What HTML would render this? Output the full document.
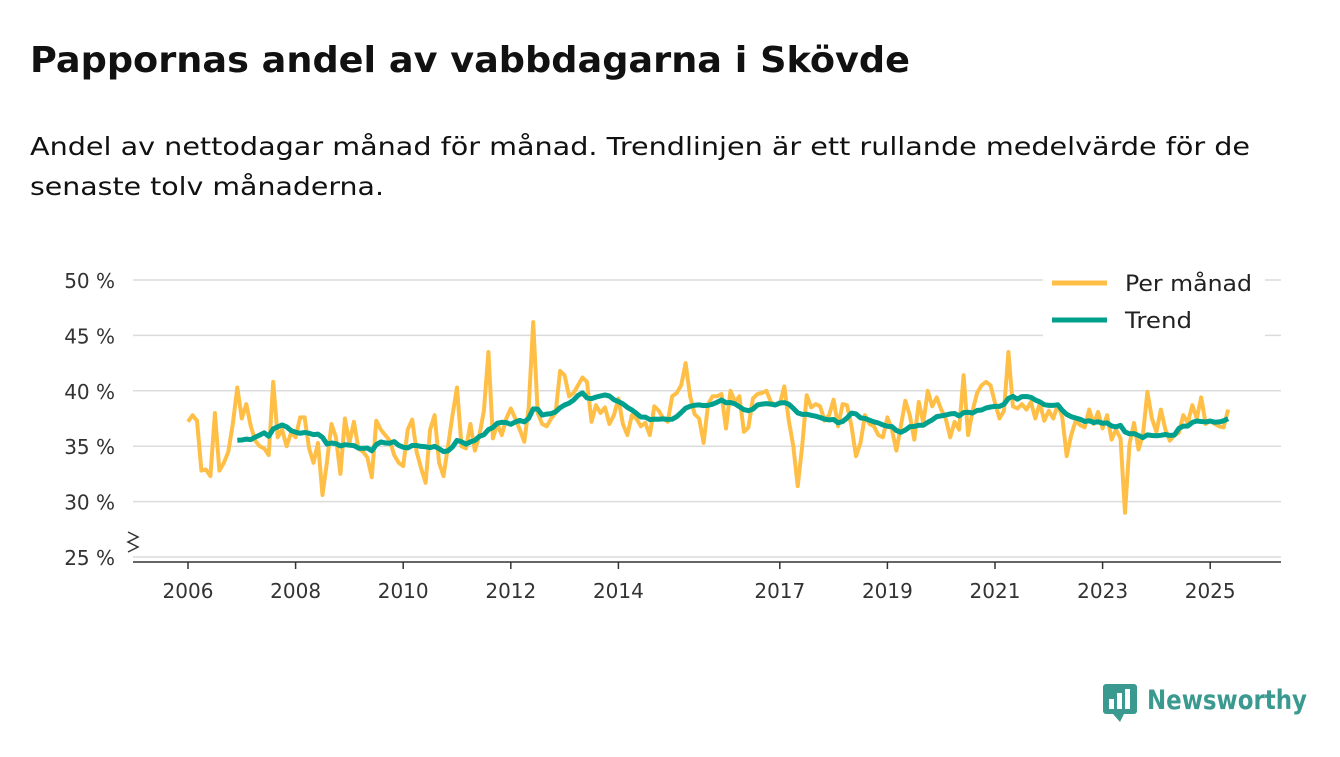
<!DOCTYPE html>
<html><head><meta charset="utf-8"><style>
body{margin:0;background:#fff;width:1340px;height:753px;overflow:hidden;font-family:"DejaVu Sans","Liberation Sans",sans-serif}
</style></head><body>
<svg width="1340" height="753" font-family="DejaVu Sans, Liberation Sans, sans-serif">
<text x="30" y="72" font-size="36" font-weight="bold" fill="#111" textLength="880" lengthAdjust="spacingAndGlyphs">Pappornas andel av vabbdagarna i Skövde</text>
<text x="30" y="155" font-size="25" fill="#111" textLength="1220" lengthAdjust="spacingAndGlyphs">Andel av nettodagar månad för månad. Trendlinjen är ett rullande medelvärde för de</text>
<text x="30" y="195" font-size="25" fill="#111" textLength="354" lengthAdjust="spacingAndGlyphs">senaste tolv månaderna.</text>
<g id="grid"></g>
<g id="yt"></g>
<g id="xt"></g>
<path d="M128,532 L138,537 L128,542 L138,547 L128,552" fill="none" stroke="#333" stroke-width="1.5"/>
<line x1="133" y1="562" x2="1281" y2="562" stroke="#333" stroke-width="1.5"/>
<path id="monthly" fill="none" stroke="#ffbf47" stroke-width="4" stroke-linejoin="round"/>
<path id="trend" fill="none" stroke="#00a08e" stroke-width="5" stroke-linejoin="round"/>
<g>
<rect x="1043" y="263" width="222" height="74" fill="#fff"/>
<line x1="1052" y1="283" x2="1107" y2="283" stroke="#ffbf47" stroke-width="5"/>
<text x="1125" y="291" font-size="22" fill="#222" textLength="127" lengthAdjust="spacingAndGlyphs">Per månad</text>
<line x1="1052" y1="320" x2="1107" y2="320" stroke="#00a08e" stroke-width="5"/>
<text x="1125" y="328" font-size="22" fill="#222" textLength="67" lengthAdjust="spacingAndGlyphs">Trend</text>
</g>
<g>
<rect x="1103" y="684" width="34" height="30" rx="3" fill="#3a9a8f"/>
<path d="M1113,714 L1120,722 L1124,714 Z" fill="#3a9a8f"/>
<rect x="1109" y="699" width="5" height="10" fill="#fff"/><rect x="1117" y="693" width="5" height="16" fill="#fff"/><rect x="1125" y="689" width="5" height="20" fill="#fff"/>
<text x="1147" y="709" font-size="27" font-weight="bold" fill="#3a9a8f" textLength="160" lengthAdjust="spacingAndGlyphs">Newsworthy</text>
</g>
</svg>
<script>
const yTicks=[25,30,35,40,45,50];
const xTickYears=[2006,2008,2010,2012,2014,2017,2019,2021,2023,2025];
const startYear=2006;
const monthly=[
37.2,37.8,37.3,32.8,32.9,32.3,38.0,32.8,33.5,34.5,37.0,40.3,
37.5,38.8,36.8,35.5,35.0,34.8,34.2,40.8,35.8,36.5,35.0,36.2,
35.8,37.6,37.6,34.8,33.5,35.3,30.6,33.6,37.0,35.8,32.5,37.5,
35.3,37.2,34.8,34.5,34.0,32.2,37.3,36.5,36.0,35.5,34.2,33.5,
33.2,36.5,37.4,34.5,33.0,31.7,36.5,37.8,33.5,32.3,35.0,37.8,
40.3,35.0,34.8,37.0,34.6,36.0,38.2,43.5,35.7,37.0,36.0,37.5,
38.4,37.5,36.5,35.4,38.5,46.2,38.0,37.0,36.8,37.5,38.0,41.8,
41.4,39.5,39.8,40.5,41.2,40.8,37.2,38.7,38.0,38.5,37.0,37.8,
39.3,37.0,36.0,37.8,37.5,36.8,37.1,36.0,38.6,38.2,37.5,37.2,
39.5,39.8,40.5,42.5,39.5,37.9,37.5,35.3,38.8,39.5,39.5,39.7,
36.6,40.0,39.0,39.5,36.3,36.7,39.3,39.7,39.8,40.0,39.0,38.7,
38.8,40.4,37.3,35.0,31.4,35.0,39.6,38.5,38.8,38.6,37.3,37.8,
39.2,36.8,38.8,38.7,36.8,34.1,35.3,37.8,37.0,36.8,36.0,35.8,
37.6,36.5,34.6,36.8,39.1,37.8,35.6,39.0,37.1,40.0,38.6,39.4,
38.3,37.5,35.8,37.2,36.5,41.4,36.0,38.2,39.8,40.5,40.8,40.5,
38.9,37.5,38.2,43.5,38.6,38.4,38.8,38.3,39.0,37.5,38.9,37.3,
38.2,37.5,38.8,37.6,34.1,36.0,37.3,36.9,36.7,38.3,37.0,38.1,
36.6,37.8,35.6,36.5,35.7,29.0,35.2,37.1,34.7,36.0,39.9,37.5,
36.3,38.3,36.5,35.5,36.0,36.2,37.8,37.1,38.7,37.5,39.4,37.0,
37.3,37.0,36.8,36.7,38.3];
const X0=188, PXY=53.8;
function xs(i){return X0+i*PXY/12;}
function ys(v){return 557-(v-25)*(277/25);}
const NS='http://www.w3.org/2000/svg';
const grid=document.getElementById('grid'),yt=document.getElementById('yt'),xt=document.getElementById('xt');
yTicks.forEach(t=>{
 const l=document.createElementNS(NS,'line');
 l.setAttribute('x1',133);l.setAttribute('x2',1281);l.setAttribute('y1',ys(t));l.setAttribute('y2',ys(t));
 l.setAttribute('stroke','#dcdcdc');l.setAttribute('stroke-width','1.5');
 
 
 grid.appendChild(l);
 const tx=document.createElementNS(NS,'text');
 tx.setAttribute('x',115);tx.setAttribute('y',ys(t)+8);tx.setAttribute('text-anchor','end');
 tx.setAttribute('font-size','20');tx.setAttribute('fill','#333');tx.textContent=t+' %';
 
 
 yt.appendChild(tx);
});
xTickYears.forEach(y=>{
 const x=xs((y-startYear)*12);
 const l=document.createElementNS(NS,'line');
 l.setAttribute('x1',x);l.setAttribute('x2',x);l.setAttribute('y1',562);l.setAttribute('y2',569);
 l.setAttribute('stroke','#333');l.setAttribute('stroke-width','1.5');
 
 
 xt.appendChild(l);
 const tx=document.createElementNS(NS,'text');
 tx.setAttribute('x',x);tx.setAttribute('y',598);tx.setAttribute('text-anchor','middle');
 tx.setAttribute('font-size','20');tx.setAttribute('fill','#333');tx.textContent=y;
 
 
 xt.appendChild(tx);
});
document.getElementById('monthly').setAttribute('d',monthly.map((v,i)=>(i?'L':'M')+xs(i).toFixed(1)+','+ys(v).toFixed(1)).join(''));
let d='';
for(let i=11;i<monthly.length;i++){
 let s=0;for(let k=i-11;k<=i;k++)s+=monthly[k];
 d+=(i>11?'L':'M')+xs(i).toFixed(1)+','+ys(s/12).toFixed(1);
}
document.getElementById('trend').setAttribute('d',d);
</script>
</body></html>
